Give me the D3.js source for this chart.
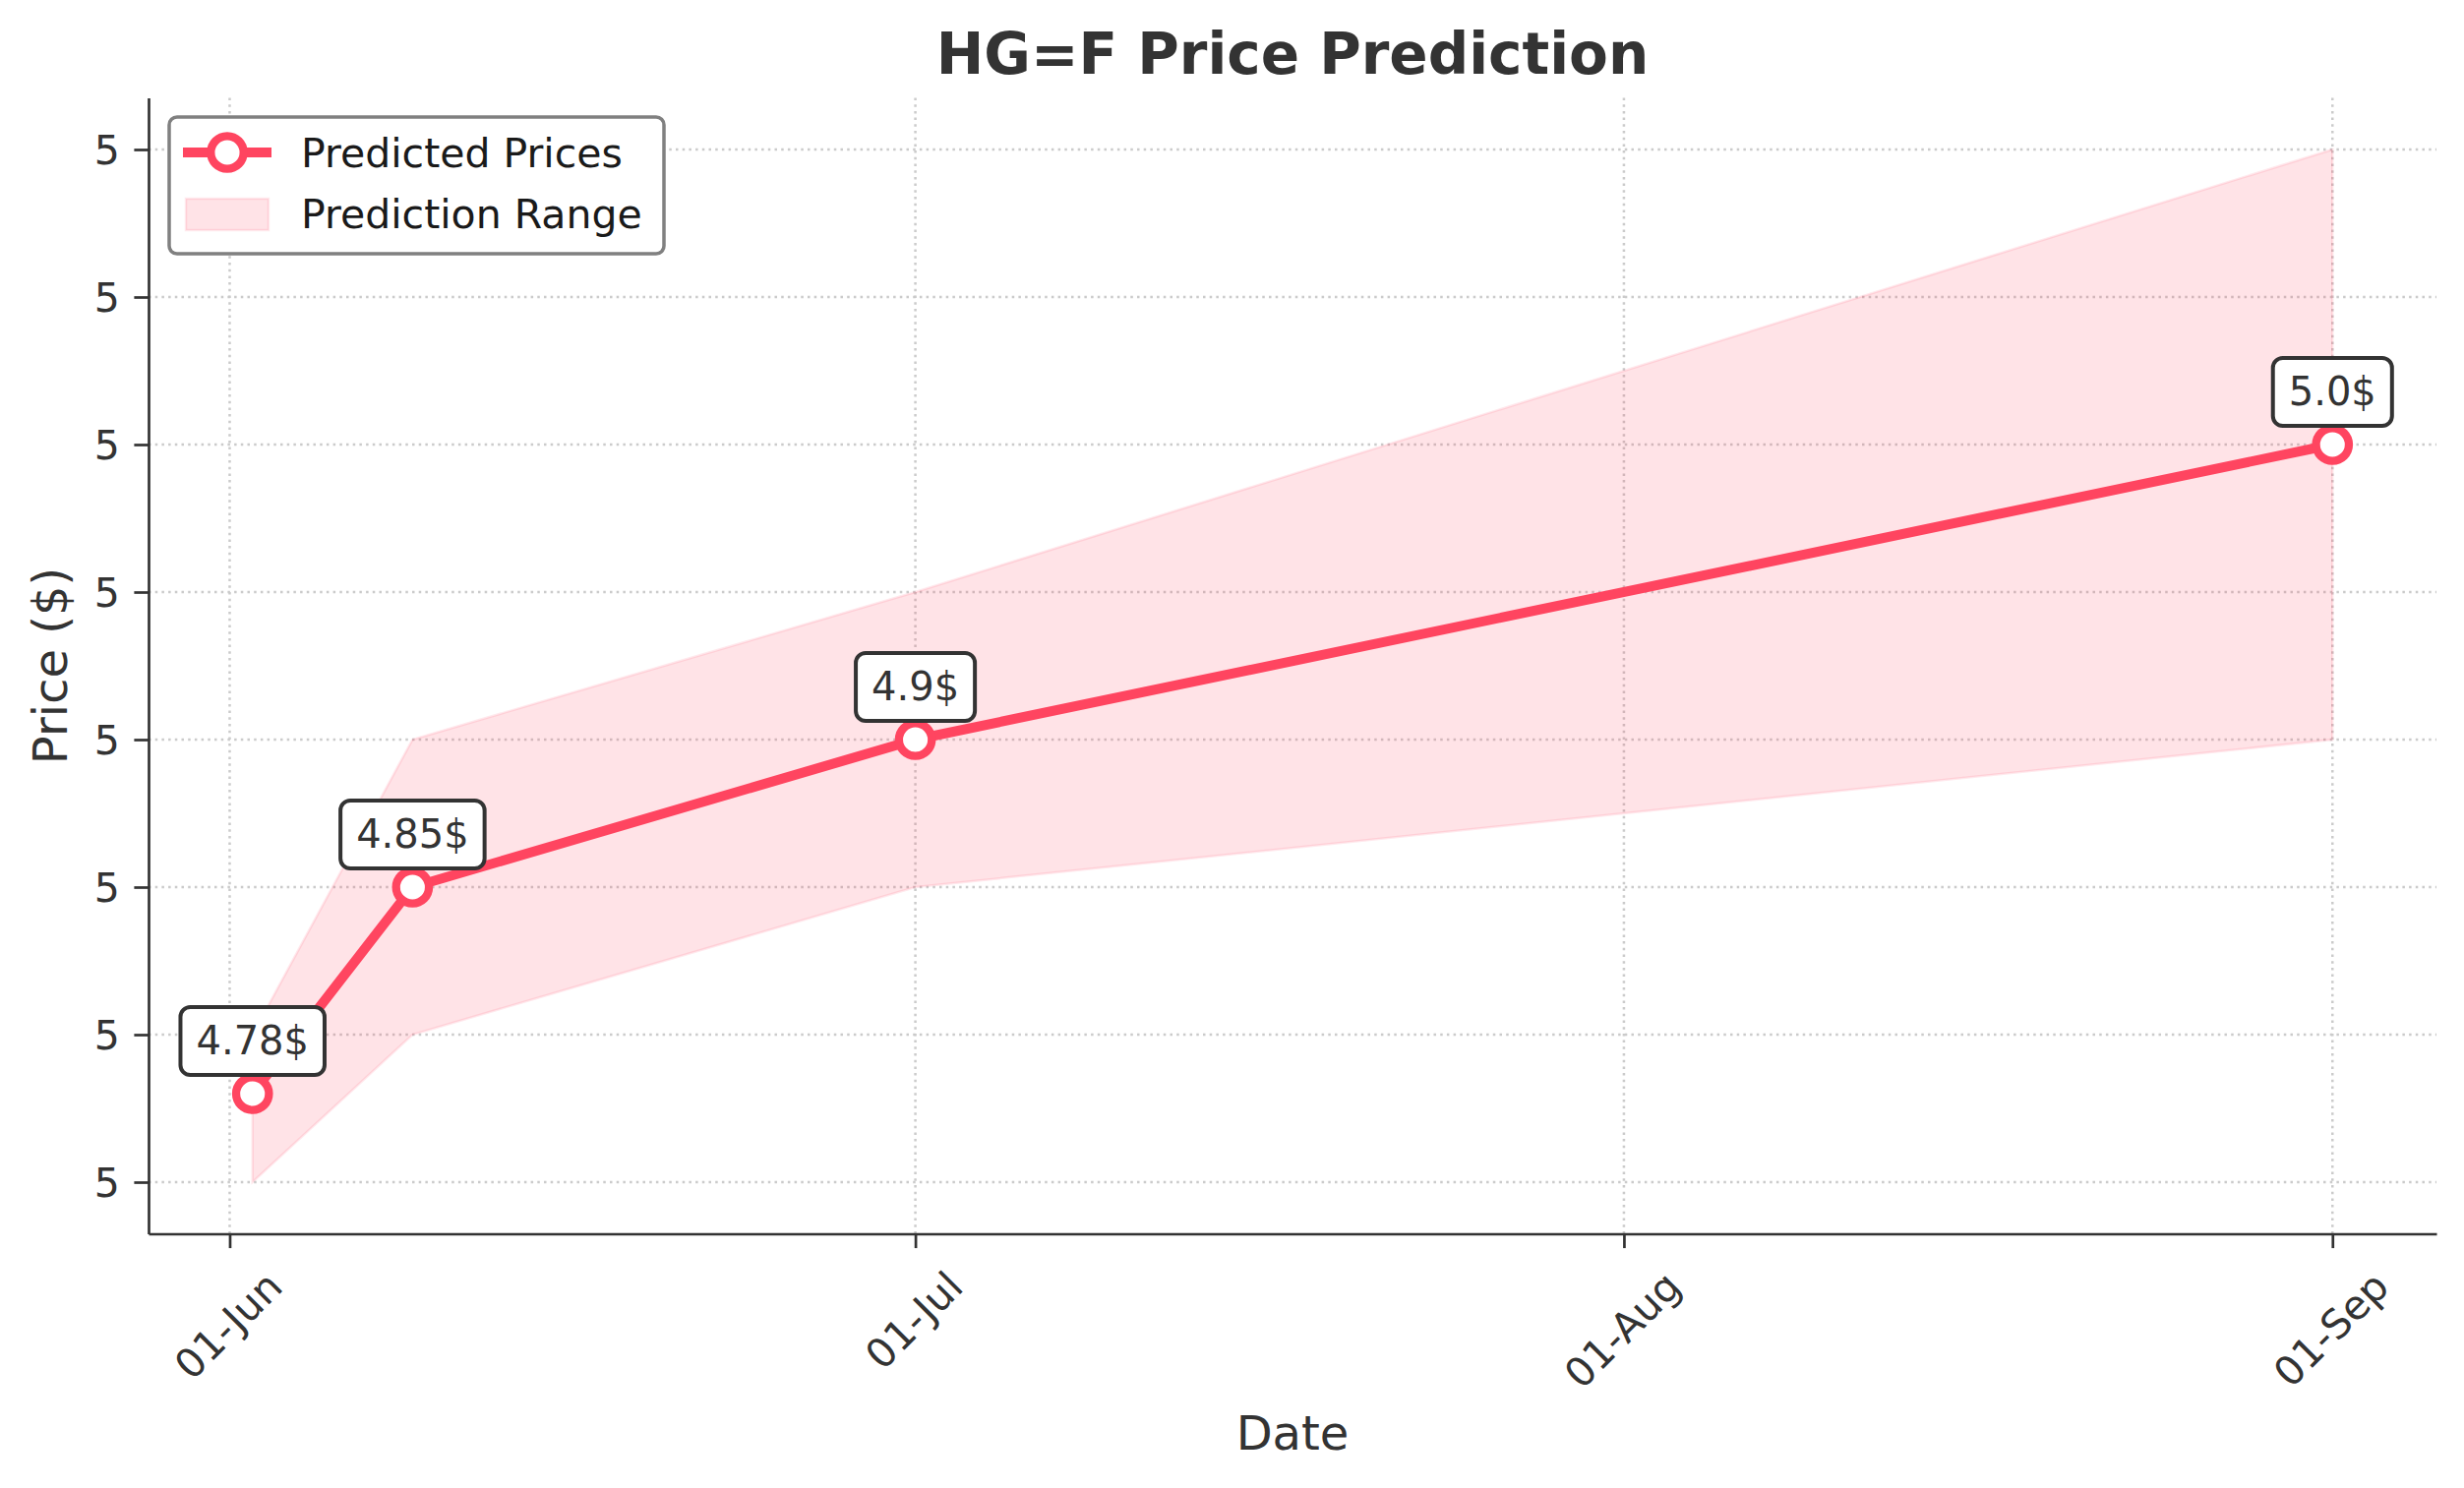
<!DOCTYPE html>
<html>
<head>
<meta charset="utf-8">
<script src="https://cdn.jsdelivr.net/npm/d3@7"></script>
<style>
  html, body { margin: 0; padding: 0; background: #fff; }
  text { font-family: "DejaVu Sans", sans-serif; }
</style>
</head>
<body>
<div id="container"></div>
<script>
/* DATA */
const dates = ["2024-06-02", "2024-06-09", "2024-07-01", "2024-09-01"];
const predicted = [4.78, 4.85, 4.90, 5.00];
const lowerBound = [4.75, 4.80, 4.85, 4.90];
const upperBound = [4.80, 4.90, 4.95, 5.10];
const xTickDates = ["2024-06-01", "2024-07-01", "2024-08-01", "2024-09-01"];
const yTickValues = [4.75, 4.80, 4.85, 4.90, 4.95, 5.00, 5.05, 5.10];

/* CONSTANTS AND GLOBALS */
const width = 2505,
  height = 1513,
  margin = { top: 99.5, bottom: 258.5, left: 151, right: 28 };
const lineColor = "#ff4560",
  textColor = "#333333";

const parse = d3.utcParse("%Y-%m-%d");
const data = dates.map((d, i) => ({
  date: parse(d),
  value: predicted[i],
  lo: lowerBound[i],
  hi: upperBound[i]
}));

// SCALES (matplotlib style 5% padding)
const xExt = d3.extent(data, d => d.date);
const xPad = (xExt[1] - xExt[0]) * 0.05;
const xScale = d3.scaleUtc()
  .domain([new Date(+xExt[0] - xPad), new Date(+xExt[1] + xPad)])
  .range([margin.left, width - margin.right]);

const yMin = d3.min(data, d => d.lo), yMax = d3.max(data, d => d.hi);
const yPad = (yMax - yMin) * 0.05;
const yScale = d3.scaleLinear()
  .domain([yMin - yPad, yMax + yPad])
  .range([height - margin.bottom, margin.top]);

// CREATE SVG CONTAINER
const svg = d3.select("#container")
  .append("svg")
  .attr("width", width)
  .attr("height", height);

// GRID
const grid = svg.append("g").attr("class", "grid")
  .attr("stroke", "#b0b0b0")
  .attr("stroke-width", 2.5)
  .attr("stroke-dasharray", "2.5,4.2")
  .attr("opacity", 0.65);
grid.selectAll("line.h")
  .data(yTickValues)
  .join("line")
  .attr("class", "h")
  .attr("x1", margin.left).attr("x2", width - margin.right)
  .attr("y1", d => yScale(d)).attr("y2", d => yScale(d));
grid.selectAll("line.v")
  .data(xTickDates.map(parse))
  .join("line")
  .attr("class", "v")
  .attr("x1", d => xScale(d)).attr("x2", d => xScale(d))
  .attr("y1", margin.top).attr("y2", height - margin.bottom);

// PREDICTION RANGE
const areaGenerator = d3.area()
  .x(d => xScale(d.date))
  .y0(d => yScale(d.lo))
  .y1(d => yScale(d.hi));

svg.append("path")
  .datum(data)
  .attr("d", areaGenerator)
  .attr("fill", lineColor)
  .attr("fill-opacity", 0.15)
  .attr("stroke", lineColor)
  .attr("stroke-opacity", 0.12)
  .attr("stroke-width", 2.5);

// PREDICTED LINE
const lineGenerator = d3.line()
  .x(d => xScale(d.date))
  .y(d => yScale(d.value));

svg.append("path")
  .datum(data)
  .attr("d", lineGenerator)
  .attr("fill", "none")
  .attr("stroke", lineColor)
  .attr("stroke-width", 10)
  .attr("stroke-linejoin", "round");

svg.selectAll("circle.pt")
  .data(data)
  .join("circle")
  .attr("class", "pt")
  .attr("cx", d => xScale(d.date))
  .attr("cy", d => yScale(d.value))
  .attr("r", 16.7)
  .attr("fill", "#fff")
  .attr("stroke", lineColor)
  .attr("stroke-width", 8.3);

// ANNOTATIONS
const fmtPrice = v => (Number.isInteger(v) ? v.toFixed(1) : String(v)) + "$";
const ann = svg.selectAll("g.ann")
  .data(data)
  .join("g")
  .attr("class", "ann")
  .attr("transform", d => `translate(${xScale(d.date)}, ${yScale(d.value)})`);
const annRect = ann.append("rect");
const annText = ann.append("text")
  .attr("x", 0)
  .attr("y", -40)
  .attr("text-anchor", "middle")
  .attr("font-size", 40)
  .attr("fill", textColor)
  .text(d => fmtPrice(d.value));
annText.each(function () {
  const w = this.getComputedTextLength();
  d3.select(this.previousSibling)
    .attr("x", -w / 2 - 16)
    .attr("y", -88)
    .attr("width", w + 32)
    .attr("height", 69)
    .attr("rx", 10)
    .attr("fill", "#fff")
    .attr("stroke", textColor)
    .attr("stroke-width", 4);
});

// BUILD AND CALL AXES
const xAxis = d3.axisBottom(xScale)
  .tickValues(xTickDates.map(parse))
  .tickFormat(d3.utcFormat("%d-%b"))
  .tickSize(14.6)
  .tickPadding(14.6)
  .tickSizeOuter(0);

const xAxisGroup = svg.append("g")
  .attr("class", "xAxis")
  .attr("transform", `translate(0, ${height - margin.bottom})`)
  .call(xAxis);

const yAxis = d3.axisLeft(yScale)
  .tickValues(yTickValues)
  .tickFormat(d3.format(".0f"))
  .tickSize(14.6)
  .tickPadding(14.6)
  .tickSizeOuter(0);

const yAxisGroup = svg.append("g")
  .attr("class", "yAxis")
  .attr("transform", `translate(${margin.left}, 0)`)
  .call(yAxis);

[xAxisGroup, yAxisGroup].forEach(g => {
  g.select(".domain").attr("stroke", textColor).attr("stroke-width", 2.7);
  g.selectAll(".tick line").attr("stroke", textColor).attr("stroke-width", 2.7);
  g.selectAll(".tick text")
    .attr("fill", textColor)
    .attr("font-size", 41)
    .attr("font-family", "DejaVu Sans, sans-serif");
});
yAxisGroup.selectAll(".tick text").attr("dy", "0.36em");

// rotated x labels, bbox centred under the tick
xAxisGroup.selectAll(".tick text").each(function () {
  const w = this.getComputedTextLength();
  const h = 47.7;
  const boxH = (w + h) * Math.SQRT1_2;
  d3.select(this)
    .attr("text-anchor", "middle")
    .attr("dy", "0.35em")
    .attr("y", 0)
    .attr("transform", `translate(-2, ${29.2 + boxH / 2}) rotate(-45)`);
});

// Add X-Axis Title
svg.append("text")
  .attr("x", (margin.left + width - margin.right) / 2)
  .attr("y", 1474)
  .style("text-anchor", "middle")
  .attr("font-size", 48)
  .attr("fill", textColor)
  .text("Date");

// Add Y-Axis Title
svg.append("text")
  .attr("x", -(margin.top + height - margin.bottom) / 2)
  .attr("y", 68)
  .attr("transform", "rotate(-90)")
  .style("text-anchor", "middle")
  .attr("font-size", 48)
  .attr("fill", textColor)
  .text("Price ($)");

// Add Main Title
svg.append("text")
  .attr("x", (margin.left + width - margin.right) / 2)
  .attr("y", 75)
  .style("text-anchor", "middle")
  .attr("font-size", 58)
  .attr("font-weight", "bold")
  .attr("fill", textColor)
  .text("HG=F Price Prediction");

// LEGEND
const legend = svg.append("g").attr("class", "legend");
legend.append("rect")
  .attr("x", 172).attr("y", 119)
  .attr("width", 503).attr("height", 139)
  .attr("rx", 8)
  .attr("fill", "#fff")
  .attr("stroke", "#808080")
  .attr("stroke-width", 3.5);
legend.append("line")
  .attr("x1", 186).attr("x2", 276)
  .attr("y1", 155).attr("y2", 155)
  .attr("stroke", lineColor)
  .attr("stroke-width", 10);
legend.append("circle")
  .attr("cx", 231).attr("cy", 155)
  .attr("r", 16.7)
  .attr("fill", "#fff")
  .attr("stroke", lineColor)
  .attr("stroke-width", 8.3);
legend.append("rect")
  .attr("x", 189).attr("y", 202)
  .attr("width", 84).attr("height", 32)
  .attr("fill", lineColor)
  .attr("fill-opacity", 0.15)
  .attr("stroke", lineColor)
  .attr("stroke-opacity", 0.12)
  .attr("stroke-width", 2.5);
legend.selectAll("text")
  .data(["Predicted Prices", "Prediction Range"])
  .join("text")
  .attr("x", 306)
  .attr("y", (d, i) => 170 + i * 62)
  .attr("font-size", 41)
  .attr("fill", "#1a1a1a")
  .text(d => d);
</script>
</body>
</html>
